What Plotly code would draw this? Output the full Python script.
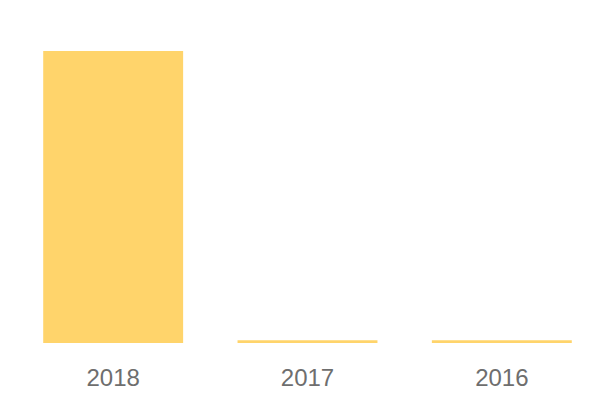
import plotly.graph_objects as go

categories = ["2018", "2017", "2016"]
values = [100, 0.9, 0.9]

fig = go.Figure(go.Bar(
    x=categories, y=values,
    marker=dict(color="#FFD46B", line=dict(width=0)),
))
fig.update_layout(
    width=600, height=400,
    margin=dict(l=8, r=9, t=43, b=65),
    paper_bgcolor="white", plot_bgcolor="white",
    bargap=0.28,
    showlegend=False,
    font=dict(family="Liberation Sans, Arial, sans-serif", size=24, color="#6e6e6e"),
)
fig.update_xaxes(showgrid=False, showline=False, zeroline=False,
                 ticks="outside", ticklen=13, tickcolor="rgba(0,0,0,0)")
fig.update_yaxes(visible=False, range=[0, 100], showgrid=False, zeroline=False)
fig.write_html("out.html")
